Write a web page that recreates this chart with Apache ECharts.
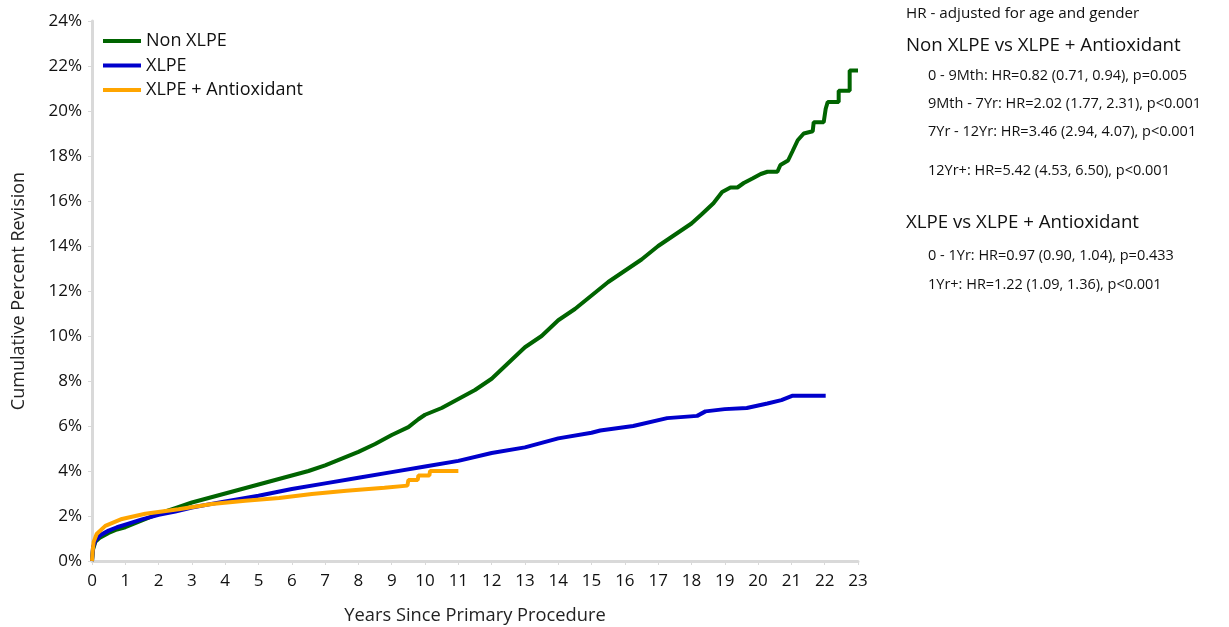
<!DOCTYPE html>
<html><head><meta charset="utf-8">
<script src="https://cdn.jsdelivr.net/npm/echarts@6/dist/echarts.min.js"></script>
<style>html,body{margin:0;padding:0;background:#fff}#c{width:1229px;height:627px}</style>
</head><body><div id="c"></div>
<script>
const seriesNames = ['Non XLPE', 'XLPE', 'XLPE + Antioxidant'];
const xTickLabels = Array.from({length: 24}, (_, i) => String(i));

const nonXlpeX = [0, 0.03, 0.1, 0.25, 0.5, 0.75, 1, 1.5, 2, 2.5, 3, 3.5, 4, 4.5, 5, 5.5, 6, 6.5, 7, 7.5, 8, 8.5, 9, 9.5, 9.8, 10, 10.5, 11, 11.5, 12, 12.5, 13, 13.5, 14, 14.5, 15, 15.5, 16, 16.5, 17, 17.5, 18, 18.3, 18.66, 18.92, 19.17, 19.38, 19.57, 19.83, 20.08, 20.28, 20.58, 20.67, 20.9, 21.03, 21.19, 21.37, 21.64, 21.67, 21.97, 22.03, 22.09, 22.42, 22.42, 22.75, 22.75, 23.0];
const nonXlpeY = [0, 0.5, 0.85, 1.05, 1.25, 1.4, 1.5, 1.8, 2.1, 2.35, 2.6, 2.8, 3.0, 3.2, 3.4, 3.6, 3.8, 4.0, 4.25, 4.55, 4.85, 5.2, 5.6, 5.95, 6.3, 6.5, 6.8, 7.2, 7.6, 8.1, 8.8, 9.5, 10.0, 10.7, 11.2, 11.8, 12.4, 12.9, 13.4, 14.0, 14.5, 15.0, 15.4, 15.9, 16.4, 16.6, 16.6, 16.8, 17.0, 17.2, 17.3, 17.3, 17.6, 17.8, 18.2, 18.7, 19.0, 19.1, 19.5, 19.5, 20.1, 20.4, 20.4, 20.9, 20.9, 21.8, 21.8];

const xlpeX = [0, 0.03, 0.1, 0.25, 0.5, 0.75, 1, 1.5, 2, 2.5, 3, 4, 5, 6, 7, 8, 9, 10, 11, 12, 13, 14, 15, 15.26, 16.25, 17.27, 18.17, 18.42, 19.0, 19.66, 20.28, 20.7, 21.04, 22.03];
const xlpeY = [0, 0.6, 0.9, 1.15, 1.35, 1.5, 1.62, 1.85, 2.05, 2.2, 2.38, 2.65, 2.9, 3.2, 3.45, 3.7, 3.95, 4.2, 4.45, 4.8, 5.05, 5.45, 5.7, 5.8, 6.0, 6.35, 6.45, 6.65, 6.75, 6.8, 7.0, 7.15, 7.35, 7.35];

const antiX = [0, 0.02, 0.05, 0.14, 0.4, 0.9, 1.6, 2.6, 3.6, 4.6, 5.62, 6.6, 7.64, 8.78, 9.47, 9.5, 9.78, 9.8, 10.13, 10.15, 11.0];
const antiY = [0, 0.45, 0.85, 1.2, 1.56, 1.87, 2.1, 2.3, 2.53, 2.68, 2.8, 2.98, 3.12, 3.26, 3.35, 3.6, 3.6, 3.8, 3.8, 4.0, 4.0];

const notes = [
  {text: 'HR - adjusted for age and gender', x: 906, y: 14, size: 15.2},
  {text: 'Non XLPE vs XLPE + Antioxidant', x: 906, y: 46, size: 18.7},
  {text: '0 - 9Mth: HR=0.82 (0.71, 0.94), p=0.005', x: 928, y: 76, size: 14.5},
  {text: '9Mth - 7Yr: HR=2.02 (1.77, 2.31), p<0.001', x: 928, y: 104, size: 14.5},
  {text: '7Yr - 12Yr: HR=3.46 (2.94, 4.07), p<0.001', x: 928, y: 132, size: 14.5},
  {text: '12Yr+: HR=5.42 (4.53, 6.50), p<0.001', x: 928, y: 171, size: 14.5},
  {text: 'XLPE vs XLPE + Antioxidant', x: 906, y: 223, size: 18.7},
  {text: '0 - 1Yr: HR=0.97 (0.90, 1.04), p=0.433', x: 928, y: 256, size: 14.5},
  {text: '1Yr+: HR=1.22 (1.09, 1.36), p<0.001', x: 928, y: 285, size: 14.5}
];

const zip = (xs, ys) => xs.map((x, i) => [x, ys[i]]);
const FONT = 'Open Sans';
const chart = echarts.init(document.getElementById('c'), null, {renderer: 'canvas'});
const colors = ['#006400', '#0000CC', '#FFA500'];
chart.setOption({
  animation: false,
  textStyle: {fontFamily: FONT},
  grid: {left: 92, right: 371, top: 21, bottom: 66, containLabel: false, outerBoundsMode: 'none'},
  legend: {
    data: seriesNames, orient: 'vertical', left: 98, top: 27,
    icon: 'rect', itemWidth: 38, itemHeight: 4, itemGap: 6.5,
    textStyle: {fontFamily: FONT, fontSize: 18, color: '#111', lineHeight: 18}
  },
  xAxis: {
    type: 'value', min: 0, max: 23, interval: 1,
    name: 'Years Since Primary Procedure', nameLocation: 'middle', nameGap: 46,
    nameTextStyle: {fontFamily: FONT, fontSize: 18.3, color: '#222'},
    axisLine: {lineStyle: {color: '#d9d9d9', width: 3}},
    axisTick: {show: true, length: 4, lineStyle: {color: '#d9d9d9'}},
    axisLabel: {fontFamily: FONT, fontSize: 17, color: '#111', margin: 12,
      formatter: v => xTickLabels[v]},
    splitLine: {show: false}
  },
  yAxis: {
    type: 'value', min: 0, max: 24, interval: 2,
    name: 'Cumulative Percent Revision', nameLocation: 'middle', nameGap: 64,
    nameTextStyle: {fontFamily: FONT, fontSize: 18, color: '#222'},
    axisLine: {show: true, lineStyle: {color: '#d9d9d9', width: 3}},
    axisTick: {show: true, length: 4, lineStyle: {color: '#d9d9d9'}},
    axisLabel: {fontFamily: FONT, fontSize: 17, color: '#111', margin: 10, padding: [3, 0, 0, 0], formatter: '{value}%'},
    splitLine: {show: false}
  },
  series: [
    {name: seriesNames[0], type: 'line', data: zip(nonXlpeX, nonXlpeY), showSymbol: false, color: colors[0], lineStyle: {width: 4}},
    {name: seriesNames[1], type: 'line', data: zip(xlpeX, xlpeY), showSymbol: false, color: colors[1], lineStyle: {width: 4}},
    {name: seriesNames[2], type: 'line', data: zip(antiX, antiY), showSymbol: false, color: colors[2], lineStyle: {width: 4}}
  ],
  graphic: notes.map(n => ({
    type: 'text', x: n.x, y: n.y,
    style: {text: n.text, font: n.size + 'px "' + FONT + '"', fill: '#111', verticalAlign: 'middle', align: 'left'}
  }))
});
</script></body></html>
